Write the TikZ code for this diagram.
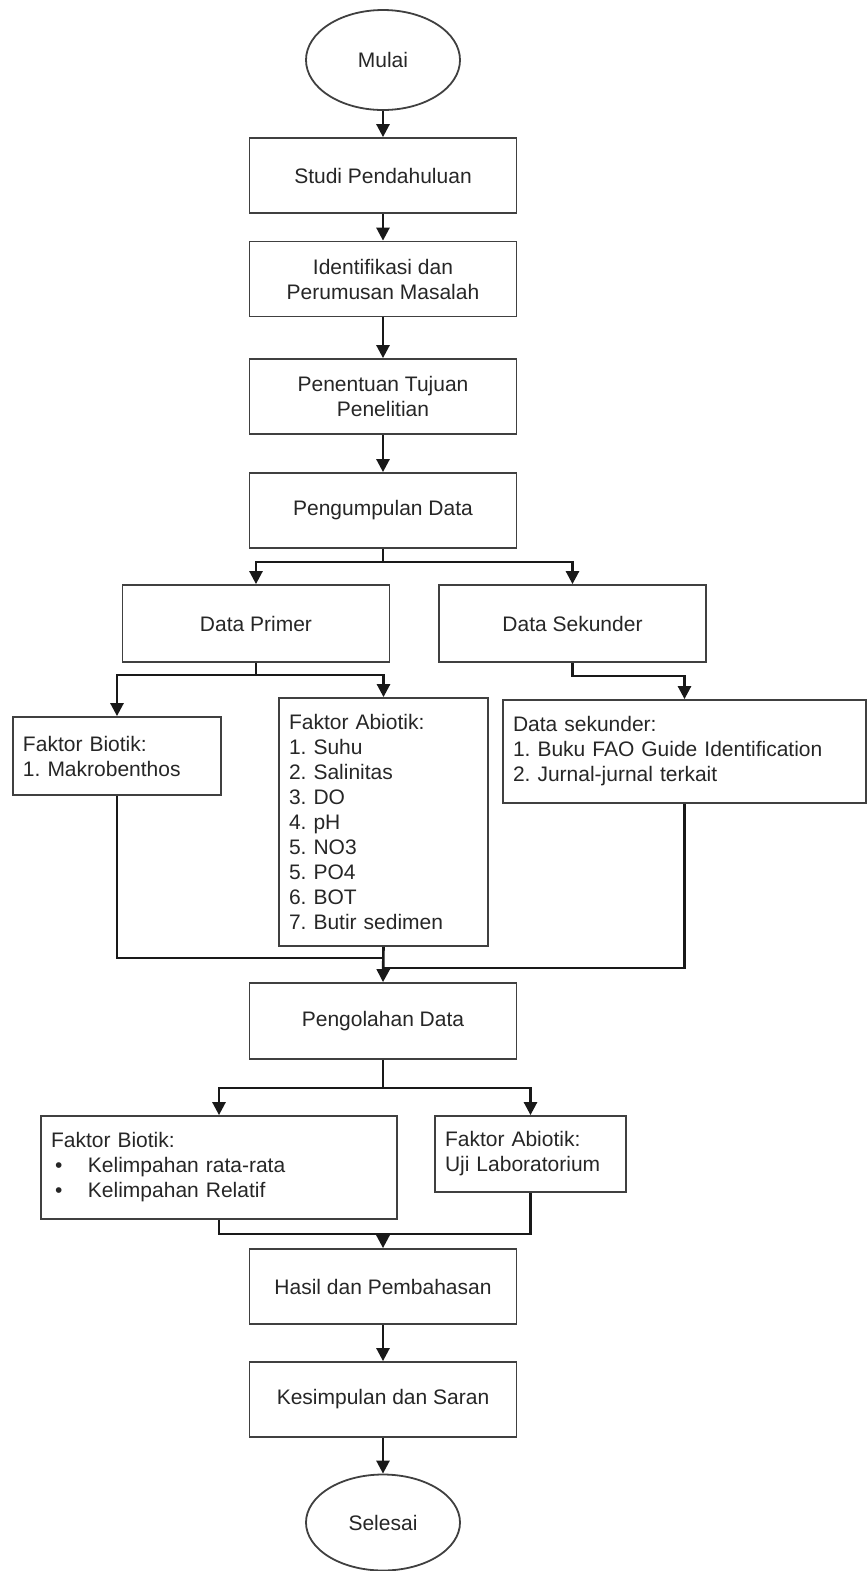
\documentclass[tikz,border=0pt]{standalone}
\usepackage{fontspec}
\setmainfont{Liberation Sans}
\usetikzlibrary{shapes.geometric}
\usetikzlibrary{arrows.meta}
\frenchspacing

\begin{document}
\begin{tikzpicture}[x=0.5pt, y=-0.5pt,
    every node/.style = {font=\fontsize{10.5}{12.5}\selectfont, text=black!85},
    terminal/.style = {ellipse, draw=black!75, line width=0.9pt,
                       minimum width=77pt, minimum height=50pt, inner sep=0pt},
    proses/.style = {rectangle, draw=black!75, line width=0.9pt, align=center,
                     minimum width=133.5pt, minimum height=37.5pt, inner sep=0pt},
    daftar/.style = {rectangle, draw=black!75, line width=0.9pt, align=left,
                     inner xsep=5pt, inner ysep=0pt},
    panah/.style = {draw=black!90, line width=1.3pt,
                    -{Triangle[length=6.5pt, width=6.5pt]}},
    garis/.style = {draw=black!90, line width=1.3pt}]
  \useasboundingbox (0,0) rectangle (868,1571);

  % alur utama
  \node[terminal] (mulai) at (383,60) {Mulai};
  \node[proses] (studi) at (383,175.5) {Studi Pendahuluan};
  \node[proses] (ident) at (383,279) {Identifikasi dan\\Perumusan Masalah};
  \node[proses] (tujuan) at (383,396.5) {Penentuan Tujuan\\Penelitian};
  \node[proses] (kumpul) at (383,510.5) {Pengumpulan Data};

  \node[proses, minimum height=38.5pt] (primer) at (256,623.5) {Data Primer};
  \node[proses, minimum height=38.5pt] (sekunder) at (572.5,623.5) {Data Sekunder};

  \node[daftar, text width=94pt, minimum height=39pt] (biotik) at (117,756)
    {Faktor Biotik:\\1. Makrobenthos};
  \node[daftar, text width=94.5pt, minimum height=124pt] (abiotik) at (383.5,822)
    {Faktor Abiotik:\\1. Suhu\\2. Salinitas\\3. DO\\4. pH\\5. NO3\\5. PO4\\6. BOT\\7. Butir sedimen};
  \node[daftar, text width=171.5pt, minimum height=51.5pt] (dsek) at (684.5,751.5)
    {Data sekunder:\\1. Buku FAO Guide Identification\\2. Jurnal-jurnal terkait};

  \node[proses, minimum height=38pt] (olah) at (383,1021) {Pengolahan Data};

  \node[daftar, text width=168pt, minimum height=51.5pt] (biotik2) at (219,1167.5)
    {Faktor Biotik:\\
     \hspace*{2pt}\makebox[16.5pt][l]{\textbullet}Kelimpahan rata-rata\\
     \hspace*{2pt}\makebox[16.5pt][l]{\textbullet}Kelimpahan Relatif};
  \node[daftar, text width=85.5pt, minimum height=38pt] (abiotik2) at (530.5,1154)
    {Faktor Abiotik:\\Uji Laboratorium};

  \node[proses] (hasil) at (383,1286.5) {Hasil dan Pembahasan};
  \node[proses] (simpul) at (383,1399.5) {Kesimpulan dan Saran};
  \node[terminal, minimum height=48pt] (selesai) at (383,1522.5) {Selesai};

  % titik cabang dan gabung
  \coordinate (cab1) at (383,562);
  \coordinate (cab2) at (256,675);
  \coordinate (cab3) at (572.5,676);
  \coordinate (gab1) at (383,958);
  \coordinate (gab2) at (383,968);
  \coordinate (cab4) at (383,1088);
  \coordinate (gab3) at (383,1234);

  \foreach \a/\b in {mulai/studi, studi/ident, ident/tujuan, tujuan/kumpul,
                     hasil/simpul, simpul/selesai}
    \draw[panah] (\a) -- (\b);

  \draw[garis] (kumpul) -- (cab1);
  \draw[panah] (cab1) -| (primer.north);
  \draw[panah] (cab1) -| (sekunder.north);

  \draw[garis] (primer) -- (cab2);
  \draw[panah] (cab2) -| (biotik.north);
  \draw[panah] (cab2) -| (abiotik.north);
  \draw[panah] (sekunder.south) -- (cab3) -| (dsek.north);

  \draw[garis] (biotik.south) |- (gab1);
  \draw[garis] (dsek.south) |- (gab2);
  \draw[panah] (abiotik.south) -- (olah.north);

  \draw[garis] (olah) -- (cab4);
  \draw[panah] (cab4) -| (biotik2.north);
  \draw[panah] (cab4) -| (abiotik2.north);

  \draw[garis] (biotik2.south) |- (gab3) -| (abiotik2.south);
  \draw[panah] (gab3) -- (hasil.north);
\end{tikzpicture}
\end{document}
